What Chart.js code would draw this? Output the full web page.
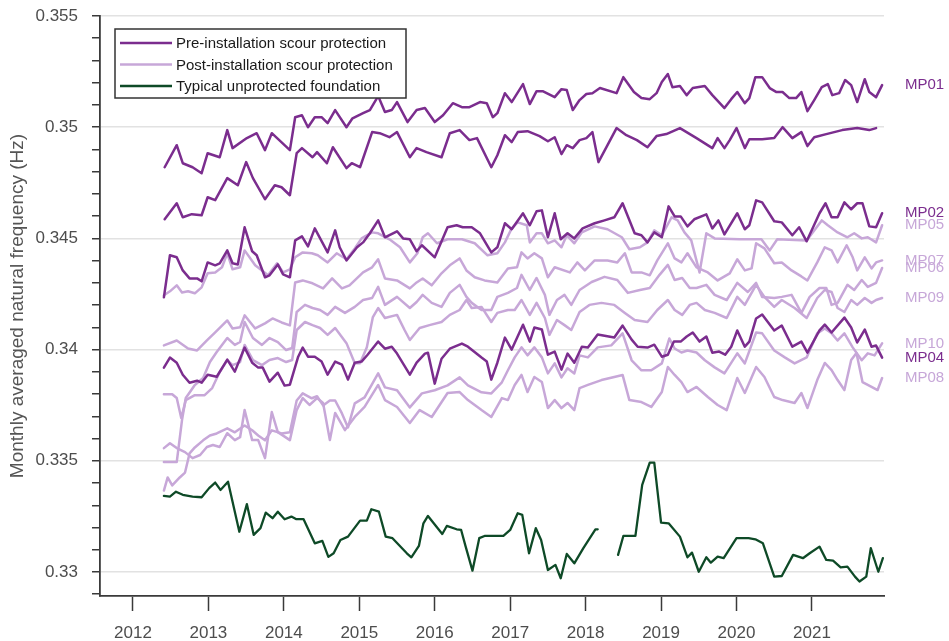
<!DOCTYPE html>
<html><head><meta charset="utf-8">
<script src="https://cdn.jsdelivr.net/npm/chart.js@4.4.0/dist/chart.umd.min.js"></script>
<style>html,body{margin:0;padding:0;background:#fff;}canvas{display:block;}</style>
</head><body>
<canvas id="c" width="949" height="641"></canvas>
<script>
// ---- data: [decimal year, monthly averaged natural frequency (Hz)] ----
const mp01 = [[2012.42,0.34820],[2012.58,0.34919],[2012.66,0.34838],[2012.79,0.34820],[2012.91,0.34793],[2012.99,0.34883],[2013.15,0.34865],[2013.25,0.34987],[2013.32,0.34906],[2013.51,0.34951],[2013.64,0.34973],[2013.75,0.34897],[2013.84,0.34973],[2014.08,0.34897],[2014.15,0.35045],[2014.24,0.35054],[2014.32,0.35000],[2014.41,0.35045],[2014.50,0.35045],[2014.58,0.35018],[2014.68,0.35077],[2014.83,0.35000],[2014.91,0.35040],[2015.05,0.35063],[2015.14,0.35077],[2015.25,0.35140],[2015.34,0.35068],[2015.43,0.35077],[2015.50,0.35113],[2015.64,0.35023],[2015.76,0.35077],[2015.87,0.35086],[2016.00,0.35023],[2016.11,0.35054],[2016.24,0.35108],[2016.36,0.35090],[2016.46,0.35090],[2016.60,0.35113],[2016.69,0.35108],[2016.77,0.35045],[2016.83,0.35063],[2016.93,0.35153],[2017.02,0.35113],[2017.17,0.35194],[2017.26,0.35104],[2017.35,0.35162],[2017.43,0.35162],[2017.59,0.35135],[2017.68,0.35171],[2017.75,0.35167],[2017.83,0.35077],[2017.92,0.35122],[2018.01,0.35149],[2018.09,0.35153],[2018.19,0.35176],[2018.41,0.35153],[2018.50,0.35225],[2018.64,0.35158],[2018.74,0.35131],[2018.85,0.35126],[2018.94,0.35153],[2019.01,0.35203],[2019.09,0.35239],[2019.15,0.35180],[2019.25,0.35185],[2019.34,0.35144],[2019.42,0.35176],[2019.58,0.35185],[2019.68,0.35144],[2019.84,0.35086],[2019.93,0.35126],[2020.01,0.35158],[2020.11,0.35108],[2020.17,0.35131],[2020.25,0.35225],[2020.34,0.35225],[2020.44,0.35176],[2020.53,0.35158],[2020.61,0.35158],[2020.70,0.35131],[2020.79,0.35131],[2020.86,0.35158],[2020.94,0.35072],[2021.03,0.35122],[2021.13,0.35180],[2021.21,0.35194],[2021.27,0.35144],[2021.36,0.35153],[2021.44,0.35212],[2021.52,0.35189],[2021.60,0.35113],[2021.70,0.35216],[2021.76,0.35158],[2021.85,0.35135],[2021.93,0.35189]];

const preUnlabelled = [[2012.42,0.34586],[2012.58,0.34658],[2012.66,0.34595],[2012.78,0.34609],[2012.91,0.34604],[2012.99,0.34685],[2013.09,0.34672],[2013.25,0.34771],[2013.39,0.34739],[2013.50,0.34843],[2013.59,0.34771],[2013.75,0.34676],[2013.88,0.34739],[2013.97,0.34730],[2014.08,0.34694],[2014.17,0.34883],[2014.24,0.34906],[2014.38,0.34865],[2014.44,0.34888],[2014.57,0.34838],[2014.65,0.34910],[2014.83,0.34816],[2014.90,0.34838],[2015.01,0.34820],[2015.17,0.34978],[2015.27,0.34973],[2015.40,0.34955],[2015.50,0.34978],[2015.67,0.34865],[2015.76,0.34906],[2015.89,0.34888],[2016.09,0.34865],[2016.20,0.34973],[2016.33,0.34987],[2016.46,0.34942],[2016.56,0.34951],[2016.75,0.34820],[2016.83,0.34874],[2016.93,0.34964],[2017.02,0.34933],[2017.10,0.34978],[2017.23,0.34982],[2017.39,0.34960],[2017.50,0.34937],[2017.59,0.34955],[2017.68,0.34879],[2017.75,0.34919],[2017.83,0.34906],[2017.92,0.34942],[2018.01,0.34951],[2018.09,0.34978],[2018.17,0.34843],[2018.29,0.34919],[2018.41,0.34996],[2018.54,0.34964],[2018.68,0.34942],[2018.82,0.34910],[2018.94,0.34960],[2019.07,0.34969],[2019.25,0.34996],[2019.47,0.34951],[2019.68,0.34906],[2019.75,0.34951],[2019.84,0.34906],[2019.91,0.34942],[2020.00,0.34996],[2020.11,0.34906],[2020.17,0.34946],[2020.34,0.34946],[2020.50,0.34951],[2020.61,0.35000],[2020.74,0.34951],[2020.86,0.34978],[2020.94,0.34915],[2021.03,0.34955],[2021.19,0.34969],[2021.40,0.34987],[2021.60,0.34996],[2021.76,0.34987],[2021.85,0.34996]];

const mp02 = [[2012.41,0.34235],[2012.49,0.34424],[2012.58,0.34415],[2012.66,0.34356],[2012.75,0.34320],[2012.85,0.34320],[2012.91,0.34307],[2012.99,0.34392],[2013.09,0.34379],[2013.15,0.34388],[2013.25,0.34446],[2013.32,0.34388],[2013.39,0.34383],[2013.48,0.34550],[2013.58,0.34442],[2013.64,0.34424],[2013.75,0.34325],[2013.81,0.34334],[2013.92,0.34383],[2013.99,0.34338],[2014.08,0.34325],[2014.15,0.34491],[2014.24,0.34509],[2014.32,0.34464],[2014.41,0.34545],[2014.58,0.34437],[2014.68,0.34536],[2014.74,0.34460],[2014.83,0.34401],[2014.97,0.34460],[2015.05,0.34482],[2015.14,0.34523],[2015.25,0.34581],[2015.34,0.34505],[2015.50,0.34532],[2015.58,0.34500],[2015.67,0.34496],[2015.76,0.34442],[2015.83,0.34469],[2016.00,0.34415],[2016.17,0.34550],[2016.29,0.34559],[2016.37,0.34550],[2016.49,0.34550],[2016.60,0.34523],[2016.75,0.34437],[2016.83,0.34460],[2016.93,0.34568],[2017.02,0.34541],[2017.17,0.34613],[2017.26,0.34559],[2017.35,0.34622],[2017.42,0.34626],[2017.50,0.34505],[2017.59,0.34613],[2017.67,0.34496],[2017.76,0.34523],[2017.85,0.34500],[2017.96,0.34545],[2018.12,0.34568],[2018.25,0.34581],[2018.38,0.34595],[2018.49,0.34658],[2018.65,0.34523],[2018.74,0.34514],[2018.82,0.34482],[2018.91,0.34527],[2019.01,0.34505],[2019.10,0.34644],[2019.18,0.34599],[2019.26,0.34599],[2019.35,0.34554],[2019.44,0.34586],[2019.60,0.34608],[2019.68,0.34545],[2019.76,0.34581],[2019.84,0.34518],[2020.01,0.34613],[2020.11,0.34541],[2020.17,0.34559],[2020.26,0.34671],[2020.34,0.34662],[2020.50,0.34577],[2020.60,0.34572],[2020.74,0.34514],[2020.83,0.34550],[2020.93,0.34487],[2021.10,0.34613],[2021.18,0.34658],[2021.26,0.34595],[2021.34,0.34595],[2021.43,0.34662],[2021.52,0.34631],[2021.60,0.34658],[2021.67,0.34658],[2021.76,0.34554],[2021.85,0.34550],[2021.93,0.34613]];

const mp04 = [[2012.41,0.33919],[2012.49,0.33964],[2012.58,0.33941],[2012.66,0.33887],[2012.75,0.33851],[2012.85,0.33860],[2012.91,0.33851],[2012.99,0.33887],[2013.11,0.33878],[2013.25,0.33955],[2013.35,0.33901],[2013.48,0.34009],[2013.58,0.33941],[2013.66,0.33919],[2013.72,0.33919],[2013.81,0.33856],[2013.92,0.33896],[2014.01,0.33838],[2014.08,0.33842],[2014.19,0.33968],[2014.25,0.34009],[2014.32,0.33968],[2014.41,0.33968],[2014.50,0.33946],[2014.58,0.33887],[2014.68,0.33946],[2014.77,0.33932],[2014.85,0.33865],[2014.94,0.33941],[2015.03,0.33946],[2015.11,0.33977],[2015.25,0.34036],[2015.34,0.34004],[2015.43,0.34013],[2015.50,0.33982],[2015.67,0.33887],[2015.76,0.33941],[2015.87,0.33982],[2015.91,0.33986],[2016.00,0.33847],[2016.09,0.33959],[2016.20,0.34004],[2016.36,0.34027],[2016.44,0.34013],[2016.62,0.33964],[2016.69,0.33946],[2016.75,0.33865],[2016.83,0.33941],[2016.93,0.34054],[2017.02,0.34000],[2017.17,0.34112],[2017.26,0.34036],[2017.32,0.34099],[2017.42,0.34090],[2017.50,0.33977],[2017.59,0.33991],[2017.68,0.33910],[2017.76,0.33982],[2017.85,0.33941],[2017.95,0.34013],[2018.03,0.34009],[2018.16,0.34068],[2018.38,0.34054],[2018.49,0.34108],[2018.61,0.34045],[2018.69,0.34013],[2018.82,0.34009],[2018.91,0.34022],[2019.01,0.33968],[2019.09,0.33977],[2019.17,0.34036],[2019.26,0.34036],[2019.34,0.34059],[2019.42,0.34077],[2019.51,0.34036],[2019.60,0.34059],[2019.68,0.33986],[2019.77,0.33991],[2019.85,0.33977],[2019.93,0.34013],[2020.01,0.34086],[2020.11,0.34013],[2020.17,0.34036],[2020.26,0.34140],[2020.34,0.34158],[2020.50,0.34086],[2020.60,0.34108],[2020.74,0.34013],[2020.86,0.34036],[2020.94,0.33986],[2021.10,0.34086],[2021.17,0.34112],[2021.26,0.34077],[2021.43,0.34144],[2021.52,0.34099],[2021.60,0.34032],[2021.70,0.34090],[2021.79,0.34013],[2021.85,0.34018],[2021.93,0.33964]];

const mp05 = [[2012.41,0.34244],[2012.49,0.34262],[2012.58,0.34289],[2012.65,0.34257],[2012.73,0.34262],[2012.82,0.34253],[2012.91,0.34280],[2012.99,0.34343],[2013.09,0.34347],[2013.18,0.34370],[2013.25,0.34433],[2013.32,0.34361],[2013.42,0.34370],[2013.48,0.34446],[2013.62,0.34379],[2013.71,0.34356],[2013.79,0.34334],[2013.91,0.34388],[2013.99,0.34347],[2014.08,0.34361],[2014.15,0.34415],[2014.25,0.34437],[2014.37,0.34433],[2014.45,0.34424],[2014.58,0.34392],[2014.70,0.34433],[2014.83,0.34406],[2014.94,0.34455],[2015.03,0.34500],[2015.17,0.34527],[2015.25,0.34523],[2015.40,0.34496],[2015.54,0.34460],[2015.67,0.34392],[2015.77,0.34433],[2015.84,0.34505],[2015.91,0.34523],[2016.03,0.34478],[2016.17,0.34496],[2016.36,0.34496],[2016.53,0.34478],[2016.70,0.34424],[2016.83,0.34433],[2016.93,0.34482],[2017.02,0.34545],[2017.10,0.34572],[2017.22,0.34559],[2017.26,0.34482],[2017.35,0.34523],[2017.42,0.34523],[2017.50,0.34478],[2017.59,0.34491],[2017.68,0.34460],[2017.75,0.34514],[2017.85,0.34478],[2017.95,0.34527],[2018.12,0.34554],[2018.29,0.34541],[2018.48,0.34505],[2018.58,0.34451],[2018.72,0.34460],[2018.82,0.34482],[2018.91,0.34536],[2019.01,0.34514],[2019.14,0.34595],[2019.22,0.34581],[2019.31,0.34527],[2019.40,0.34491],[2019.51,0.34347],[2019.60,0.34523],[2019.71,0.34500],[2020.04,0.34496],[2020.33,0.34496],[2020.44,0.34446],[2020.54,0.34496],[2020.93,0.34491],[2021.13,0.34581],[2021.21,0.34559],[2021.34,0.34527],[2021.47,0.34505],[2021.56,0.34523],[2021.66,0.34500],[2021.74,0.34505],[2021.85,0.34482],[2021.93,0.34559]];

const mp07 = [[2012.41,0.34019],[2012.58,0.34041],[2012.73,0.34005],[2012.85,0.33996],[2012.98,0.34041],[2013.09,0.34077],[2013.25,0.34131],[2013.32,0.34095],[2013.42,0.34100],[2013.48,0.34154],[2013.62,0.34095],[2013.75,0.34118],[2013.85,0.34140],[2013.97,0.34122],[2014.08,0.34109],[2014.15,0.34302],[2014.25,0.34311],[2014.38,0.34298],[2014.52,0.34275],[2014.64,0.34320],[2014.77,0.34275],[2014.87,0.34289],[2015.05,0.34347],[2015.17,0.34370],[2015.25,0.34406],[2015.34,0.34320],[2015.50,0.34311],[2015.67,0.34275],[2015.76,0.34302],[2015.84,0.34320],[2015.96,0.34289],[2016.09,0.34343],[2016.20,0.34379],[2016.33,0.34410],[2016.42,0.34356],[2016.53,0.34325],[2016.66,0.34311],[2016.83,0.34302],[2016.97,0.34365],[2017.09,0.34370],[2017.15,0.34437],[2017.23,0.34410],[2017.32,0.34433],[2017.42,0.34410],[2017.50,0.34325],[2017.59,0.34370],[2017.79,0.34347],[2017.89,0.34392],[2017.99,0.34356],[2018.12,0.34401],[2018.29,0.34401],[2018.42,0.34392],[2018.52,0.34433],[2018.61,0.34347],[2018.74,0.34347],[2018.85,0.34334],[2018.95,0.34401],[2019.09,0.34478],[2019.18,0.34410],[2019.27,0.34392],[2019.35,0.34433],[2019.47,0.34370],[2019.62,0.34347],[2019.75,0.34311],[2019.91,0.34343],[2020.01,0.34406],[2020.11,0.34356],[2020.20,0.34365],[2020.26,0.34478],[2020.37,0.34455],[2020.50,0.34388],[2020.60,0.34392],[2020.73,0.34356],[2020.86,0.34329],[2020.94,0.34311],[2021.07,0.34392],[2021.17,0.34460],[2021.26,0.34446],[2021.34,0.34392],[2021.46,0.34469],[2021.54,0.34415],[2021.60,0.34356],[2021.70,0.34415],[2021.79,0.34365],[2021.85,0.34392],[2021.93,0.34401]];

const mp06 = [[2012.41,0.33494],[2012.58,0.33494],[2012.65,0.33683],[2012.70,0.33782],[2012.82,0.33841],[2012.93,0.33872],[2013.02,0.33944],[2013.11,0.33989],[2013.25,0.34052],[2013.35,0.34021],[2013.42,0.34034],[2013.48,0.34124],[2013.59,0.34052],[2013.71,0.34021],[2013.81,0.34052],[2013.92,0.34034],[2014.03,0.33998],[2014.11,0.34007],[2014.17,0.34169],[2014.28,0.34201],[2014.38,0.34187],[2014.48,0.34178],[2014.58,0.34156],[2014.68,0.34192],[2014.81,0.34165],[2014.94,0.34192],[2015.05,0.34223],[2015.17,0.34232],[2015.25,0.34282],[2015.34,0.34201],[2015.50,0.34237],[2015.67,0.34187],[2015.76,0.34214],[2015.84,0.34246],[2015.96,0.34210],[2016.09,0.34192],[2016.20,0.34255],[2016.33,0.34291],[2016.42,0.34237],[2016.49,0.34210],[2016.62,0.34178],[2016.75,0.34178],[2016.83,0.34237],[2016.97,0.34255],[2017.09,0.34277],[2017.15,0.34336],[2017.26,0.34268],[2017.35,0.34322],[2017.46,0.34246],[2017.52,0.34156],[2017.62,0.34223],[2017.72,0.34246],[2017.81,0.34201],[2017.92,0.34268],[2018.08,0.34304],[2018.25,0.34327],[2018.42,0.34313],[2018.56,0.34255],[2018.72,0.34268],[2018.85,0.34277],[2018.98,0.34336],[2019.09,0.34381],[2019.18,0.34313],[2019.28,0.34322],[2019.38,0.34277],[2019.47,0.34277],[2019.60,0.34291],[2019.71,0.34246],[2019.87,0.34223],[2020.01,0.34300],[2020.15,0.34259],[2020.26,0.34300],[2020.34,0.34237],[2020.50,0.34232],[2020.60,0.34237],[2020.73,0.34246],[2020.86,0.34165],[2020.97,0.34237],[2021.10,0.34277],[2021.19,0.34277],[2021.26,0.34201],[2021.34,0.34210],[2021.47,0.34291],[2021.56,0.34268],[2021.66,0.34313],[2021.74,0.34282],[2021.85,0.34300],[2021.93,0.34367]];

const mp09 = [[2012.41,0.33799],[2012.52,0.33799],[2012.58,0.33782],[2012.64,0.33692],[2012.70,0.33773],[2012.82,0.33795],[2012.95,0.33795],[2013.05,0.33827],[2013.15,0.33899],[2013.25,0.33953],[2013.32,0.33930],[2013.42,0.33944],[2013.48,0.34021],[2013.59,0.33953],[2013.71,0.33930],[2013.81,0.33953],[2013.92,0.33962],[2014.03,0.33944],[2014.11,0.33953],[2014.17,0.34088],[2014.28,0.34124],[2014.38,0.34110],[2014.48,0.34097],[2014.58,0.34066],[2014.68,0.34097],[2014.83,0.34029],[2014.94,0.33939],[2015.01,0.33939],[2015.10,0.34011],[2015.18,0.34146],[2015.25,0.34187],[2015.34,0.34142],[2015.50,0.34156],[2015.60,0.34088],[2015.67,0.34043],[2015.80,0.34097],[2015.93,0.34110],[2016.09,0.34124],[2016.20,0.34156],[2016.33,0.34178],[2016.42,0.34223],[2016.49,0.34187],[2016.62,0.34192],[2016.75,0.34124],[2016.83,0.34165],[2016.97,0.34178],[2017.06,0.34178],[2017.15,0.34223],[2017.26,0.34156],[2017.35,0.34210],[2017.46,0.34142],[2017.52,0.34066],[2017.62,0.34133],[2017.72,0.34110],[2017.81,0.34088],[2017.92,0.34169],[2018.05,0.34201],[2018.21,0.34210],[2018.38,0.34201],[2018.52,0.34165],[2018.65,0.34133],[2018.82,0.34124],[2018.95,0.34178],[2019.09,0.34223],[2019.18,0.34178],[2019.28,0.34156],[2019.38,0.34201],[2019.47,0.34210],[2019.58,0.34178],[2019.71,0.34165],[2019.87,0.34142],[2020.01,0.34237],[2020.11,0.34201],[2020.26,0.34291],[2020.37,0.34237],[2020.50,0.34192],[2020.60,0.34223],[2020.77,0.34187],[2020.93,0.34142],[2021.07,0.34232],[2021.17,0.34268],[2021.26,0.34259],[2021.34,0.34187],[2021.43,0.34169],[2021.52,0.34223],[2021.60,0.34201],[2021.70,0.34232],[2021.79,0.34210],[2021.85,0.34223],[2021.93,0.34232]];

const mp10 = [[2012.41,0.33366],[2012.46,0.33425],[2012.52,0.33389],[2012.62,0.33425],[2012.69,0.33447],[2012.75,0.33533],[2012.82,0.33560],[2012.93,0.33592],[2013.02,0.33614],[2013.11,0.33623],[2013.25,0.33646],[2013.35,0.33628],[2013.48,0.33659],[2013.58,0.33637],[2013.66,0.33614],[2013.75,0.33592],[2013.84,0.33637],[2013.97,0.33623],[2014.08,0.33628],[2014.17,0.33771],[2014.25,0.33803],[2014.37,0.33781],[2014.44,0.33790],[2014.52,0.33749],[2014.61,0.33771],[2014.68,0.33771],[2014.77,0.33713],[2014.85,0.33650],[2014.94,0.33758],[2015.07,0.33785],[2015.25,0.33893],[2015.34,0.33830],[2015.50,0.33817],[2015.67,0.33740],[2015.83,0.33803],[2016.00,0.33817],[2016.17,0.33839],[2016.33,0.33875],[2016.44,0.33839],[2016.62,0.33808],[2016.75,0.33803],[2016.89,0.33853],[2016.97,0.33907],[2017.06,0.33965],[2017.15,0.34010],[2017.23,0.33974],[2017.32,0.34010],[2017.42,0.33965],[2017.50,0.33893],[2017.59,0.33938],[2017.68,0.33875],[2017.76,0.33916],[2017.85,0.33893],[2017.92,0.33974],[2018.03,0.33965],[2018.16,0.34010],[2018.34,0.34019],[2018.49,0.34073],[2018.61,0.33952],[2018.74,0.33907],[2018.87,0.33907],[2019.01,0.33938],[2019.11,0.34050],[2019.18,0.34005],[2019.27,0.33987],[2019.35,0.33996],[2019.47,0.33987],[2019.58,0.33952],[2019.71,0.33920],[2019.84,0.33893],[2020.01,0.33983],[2020.11,0.33938],[2020.26,0.34077],[2020.34,0.34073],[2020.50,0.33996],[2020.64,0.33965],[2020.77,0.33938],[2020.93,0.33965],[2021.07,0.34073],[2021.17,0.34095],[2021.26,0.34073],[2021.34,0.34041],[2021.43,0.34073],[2021.54,0.34010],[2021.66,0.33952],[2021.74,0.33983],[2021.83,0.33974],[2021.93,0.34028]];

const mp08 = [[2012.41,0.33557],[2012.49,0.33579],[2012.58,0.33557],[2012.69,0.33539],[2012.79,0.33512],[2012.89,0.33526],[2012.98,0.33562],[2013.06,0.33571],[2013.15,0.33562],[2013.25,0.33624],[2013.35,0.33593],[2013.42,0.33606],[2013.48,0.33728],[2013.58,0.33593],[2013.66,0.33593],[2013.75,0.33512],[2013.84,0.33719],[2013.92,0.33629],[2014.08,0.33593],[2014.17,0.33728],[2014.25,0.33782],[2014.34,0.33751],[2014.44,0.33782],[2014.52,0.33760],[2014.61,0.33593],[2014.68,0.33715],[2014.81,0.33638],[2014.94,0.33697],[2015.07,0.33742],[2015.25,0.33841],[2015.34,0.33773],[2015.50,0.33742],[2015.67,0.33670],[2015.80,0.33728],[2015.96,0.33697],[2016.17,0.33805],[2016.33,0.33809],[2016.44,0.33773],[2016.62,0.33728],[2016.75,0.33697],[2016.89,0.33782],[2016.97,0.33773],[2017.06,0.33841],[2017.15,0.33886],[2017.23,0.33809],[2017.32,0.33877],[2017.42,0.33854],[2017.50,0.33737],[2017.59,0.33773],[2017.68,0.33737],[2017.76,0.33760],[2017.85,0.33728],[2017.92,0.33827],[2018.03,0.33841],[2018.21,0.33863],[2018.38,0.33877],[2018.49,0.33886],[2018.58,0.33773],[2018.74,0.33764],[2018.87,0.33742],[2019.01,0.33809],[2019.09,0.33922],[2019.18,0.33886],[2019.27,0.33854],[2019.35,0.33809],[2019.47,0.33832],[2019.62,0.33787],[2019.75,0.33751],[2019.87,0.33728],[2020.01,0.33872],[2020.11,0.33805],[2020.26,0.33922],[2020.37,0.33877],[2020.50,0.33787],[2020.61,0.33773],[2020.77,0.33760],[2020.86,0.33805],[2020.94,0.33737],[2021.07,0.33863],[2021.17,0.33940],[2021.26,0.33908],[2021.34,0.33863],[2021.43,0.33818],[2021.52,0.33953],[2021.59,0.33985],[2021.67,0.33854],[2021.79,0.33832],[2021.87,0.33818],[2021.93,0.33872]];

const unprotected = [[2012.41,0.33342],[2012.49,0.33339],[2012.57,0.33361],[2012.66,0.33347],[2012.79,0.33339],[2012.91,0.33336],[2013.01,0.33377],[2013.09,0.33402],[2013.16,0.33369],[2013.26,0.33406],[2013.41,0.33181],[2013.51,0.33305],[2013.60,0.33167],[2013.69,0.33197],[2013.76,0.33267],[2013.85,0.33242],[2013.92,0.33271],[2014.01,0.33237],[2014.10,0.33249],[2014.16,0.33238],[2014.26,0.33238],[2014.41,0.33129],[2014.51,0.33140],[2014.59,0.33068],[2014.66,0.33084],[2014.75,0.33144],[2014.85,0.33159],[2015.01,0.33231],[2015.10,0.33231],[2015.16,0.33282],[2015.26,0.33271],[2015.35,0.33159],[2015.44,0.33152],[2015.63,0.33084],[2015.69,0.33066],[2015.79,0.33117],[2015.85,0.33219],[2015.91,0.33252],[2016.10,0.33171],[2016.16,0.33207],[2016.29,0.33192],[2016.35,0.33189],[2016.41,0.33114],[2016.50,0.33006],[2016.59,0.33152],[2016.66,0.33162],[2016.91,0.33162],[2017.00,0.33189],[2017.10,0.33264],[2017.16,0.33257],[2017.25,0.33084],[2017.34,0.33197],[2017.41,0.33144],[2017.50,0.33009],[2017.60,0.33032],[2017.67,0.32972],[2017.75,0.33081],[2017.85,0.33039],[2017.97,0.33107],[2018.13,0.33192],[2018.16,0.33192],[2018.30,null],[2018.43,0.33077],[2018.50,0.33162],[2018.66,0.33162],[2018.75,0.33392],[2018.85,0.33492],[2018.91,0.33492],[2019.00,0.33222],[2019.10,0.33219],[2019.25,0.33159],[2019.35,0.33066],[2019.41,0.33087],[2019.50,0.33001],[2019.60,0.33066],[2019.66,0.33042],[2019.75,0.33069],[2019.83,0.33062],[2020.00,0.33152],[2020.16,0.33152],[2020.25,0.33147],[2020.35,0.33129],[2020.50,0.32979],[2020.60,0.32982],[2020.75,0.33077],[2020.88,0.33062],[2020.97,0.33084],[2021.10,0.33114],[2021.19,0.33054],[2021.28,0.33051],[2021.38,0.33021],[2021.47,0.33024],[2021.57,0.32979],[2021.63,0.32957],[2021.72,0.32979],[2021.78,0.33107],[2021.88,0.33001],[2021.94,0.33062]];

const xTickYears = [2012,2013,2014,2015,2016,2017,2018,2019,2020,2021];
const yMajorTicks = [0.33,0.335,0.34,0.345,0.35,0.355];
const legendLabels = ['Pre-installation scour protection','Post-installation scour protection','Typical unprotected foundation'];

// ---- styling ----
const DARK = '#7b2d8e', LIGHT = '#c7a7d8', GREEN = '#0e4a27';
const FONT = '"Liberation Sans", Arial, Helvetica, sans-serif';

const series = [
  {name:'MP01', data:mp01, color:DARK, kind:0, label:true},
  {name:'', data:preUnlabelled, color:DARK, kind:0, label:false},
  {name:'MP02', data:mp02, color:DARK, kind:0, label:true},
  {name:'MP04', data:mp04, color:DARK, kind:0, label:true},
  {name:'MP05', data:mp05, color:LIGHT, kind:1, label:true},
  {name:'MP07', data:mp07, color:LIGHT, kind:1, label:true},
  {name:'MP06', data:mp06, color:LIGHT, kind:1, label:true},
  {name:'MP09', data:mp09, color:LIGHT, kind:1, label:true},
  {name:'MP10', data:mp10, color:LIGHT, kind:1, label:true},
  {name:'MP08', data:mp08, color:LIGHT, kind:1, label:true},
  {name:'Typical unprotected foundation', data:unprotected, color:GREEN, kind:2, label:false}
];

const datasets = series.map(s => ({
  label: s.name,
  data: s.data,
  borderColor: s.color,
  backgroundColor: s.color,
  borderWidth: s.kind === 2 ? 2.3 : 2.5,
  pointRadius: 0,
  tension: 0,
  spanGaps: false,
  fill: false,
  order: s.kind === 0 ? 0 : (s.kind === 2 ? 1 : 2)
}));

const overlay = {
  id: 'overlay',
  afterDatasetsDraw(chart) {
    const {ctx, chartArea, scales} = chart;
    const y = scales.y;
    ctx.save();
    // end labels (light first, dark on top)
    ctx.font = '15px ' + FONT;
    ctx.textAlign = 'left';
    ctx.textBaseline = 'middle';
    const ordered = series.filter(s => s.label && s.kind === 1).concat(series.filter(s => s.label && s.kind === 0));
    ordered.forEach(s => {
      const last = s.data[s.data.length - 1];
      ctx.fillStyle = s.color;
      ctx.fillText(s.name, chartArea.right + 21, y.getPixelForValue(last[1]));
    });
    // legend box
    const bx = chartArea.left + 15, by = chartArea.top + 13, bw = 291, bh = 69;
    ctx.fillStyle = '#ffffff';
    ctx.fillRect(bx, by, bw, bh);
    ctx.strokeStyle = '#333333';
    ctx.lineWidth = 1.5;
    ctx.strokeRect(bx, by, bw, bh);
    const cols = [DARK, LIGHT, GREEN];
    ctx.font = '15px ' + FONT;
    legendLabels.forEach((t, i) => {
      const ry = by + 14 + i * 21.5;
      ctx.strokeStyle = cols[i];
      ctx.lineWidth = 2.5;
      ctx.beginPath();
      ctx.moveTo(bx + 5, ry);
      ctx.lineTo(bx + 57, ry);
      ctx.stroke();
      ctx.fillStyle = '#1a1a1a';
      ctx.fillText(t, bx + 61, ry + 1);
    });
    ctx.restore();
  }
};

new Chart(document.getElementById('c'), {
  type: 'line',
  data: { datasets },
  plugins: [overlay],
  options: {
    responsive: false,
    animation: false,
    devicePixelRatio: 1,
    layout: { padding: { left: 0, right: 65, top: 16, bottom: 0 } },
    plugins: { legend: { display: false }, tooltip: { enabled: false } },
    elements: { line: { borderJoinStyle: 'round', borderCapStyle: 'round' } },
    scales: {
      x: {
        type: 'linear',
        min: 2011.563,
        max: 2021.955,
        afterFit: s => { s.height = 45; s.paddingLeft = 0; s.paddingRight = 0; },
        afterBuildTicks: s => { s.ticks = xTickYears.map(v => ({ value: v })); },
        ticks: {
          color: '#4d4d4d',
          font: { size: 17, family: FONT },
          padding: 12,
          maxRotation: 0,
          autoSkip: false,
          callback: v => String(v)
        },
        grid: { drawOnChartArea: false, drawTicks: true, tickLength: 15, tickColor: '#3a3a3a', tickWidth: 1.5 },
        border: { display: true, color: '#3a3a3a', width: 1.8 }
      },
      y: {
        type: 'linear',
        min: 0.32892,
        max: 0.355,
        afterFit: s => { s.width = 100; s.paddingTop = 0; s.paddingBottom = 0; },
        afterBuildTicks: s => {
          const t = [];
          for (let k = 329; k <= 355; k++) t.push({ value: k / 1000 });
          s.ticks = t;
        },
        ticks: {
          color: '#4d4d4d',
          font: { size: 17, family: FONT },
          padding: 14,
          autoSkip: false,
          callback: v => yMajorTicks.some(m => Math.abs(m - v) < 1e-7) ? String(+v.toFixed(3)) : ''
        },
        grid: {
          color: c => (c.tick && yMajorTicks.some(m => Math.abs(m - c.tick.value) < 1e-7)) ? '#e2e2e2' : 'rgba(0,0,0,0)',
          lineWidth: 1.5,
          drawTicks: true,
          tickLength: 8,
          tickColor: '#3a3a3a',
          tickWidth: 1.5
        },
        border: { display: true, color: '#3a3a3a', width: 1.8 },
        title: {
          display: true,
          text: 'Monthly averaged natural frequency (Hz)',
          color: '#555555',
          font: { size: 19, family: FONT },
          padding: { top: 6, bottom: 0 }
        }
      }
    }
  }
});
</script>
</body></html>
